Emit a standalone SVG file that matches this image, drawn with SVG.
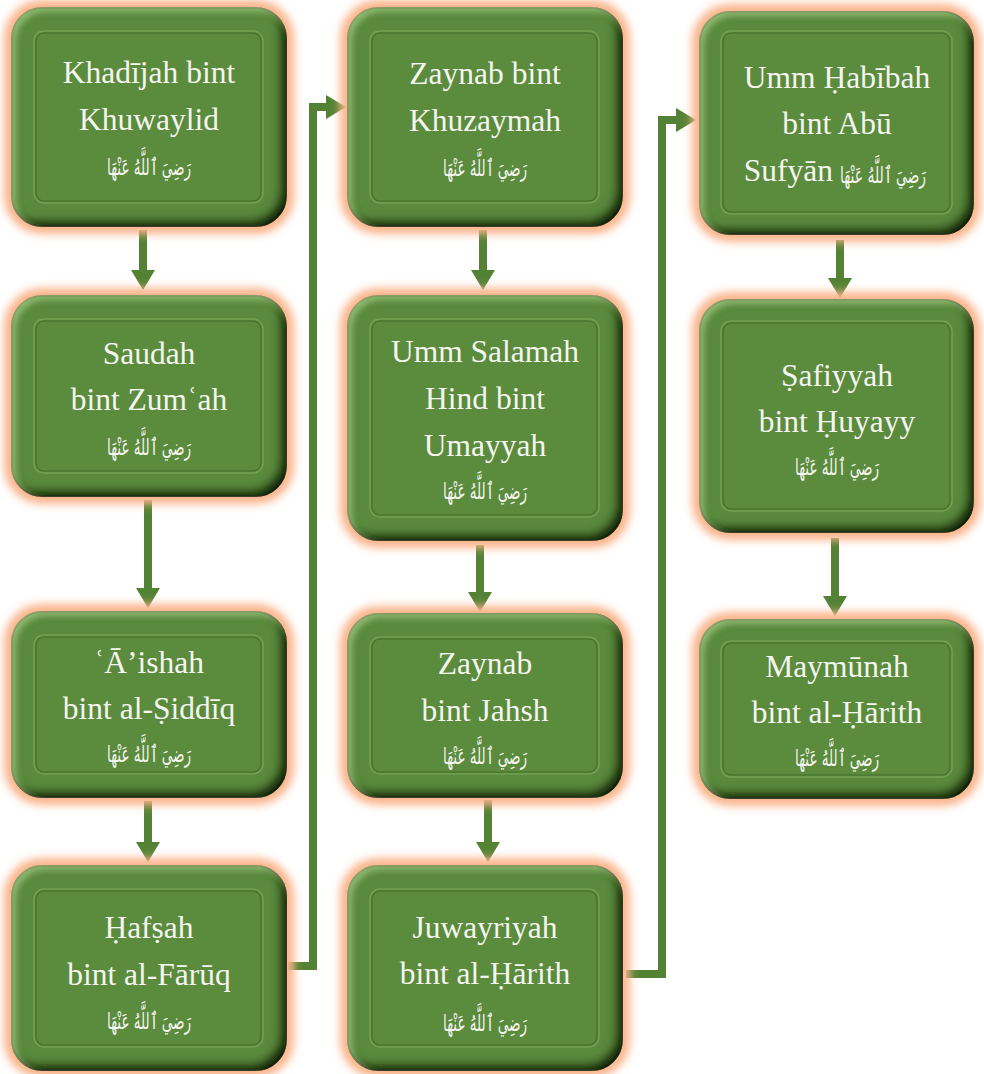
<svg xmlns="http://www.w3.org/2000/svg" width="984" height="1074" viewBox="0 0 984 1074">
<defs>
<style>
.glow{fill:none;stroke:#fab48a;stroke-width:16;filter:url(#blur)}
.body{fill:#5a8a3c;stroke:#3b2412;stroke-width:1.5;filter:url(#bevel)}
.panel{fill:#5b8b3d;stroke:#46702d;stroke-width:1.2}
.phl{fill:none;stroke:#78a658;stroke-width:1.5;opacity:0.8}
.t{font-family:"Liberation Serif",serif;font-size:31.5px;fill:#f5f5ef;text-anchor:middle}
.ar{font-family:"DejaVu Sans",sans-serif;font-size:23px;fill:#f5f5ef;text-anchor:middle}
.conn{fill:none;stroke:#548235;stroke-width:8;marker-end:url(#ah)}
</style>
<filter id="blur" x="-10%" y="-10%" width="120%" height="120%">
<feGaussianBlur stdDeviation="4.5"/>
</filter>
<filter id="bevel" x="-5%" y="-5%" width="110%" height="110%">
<feOffset in="SourceAlpha" dx="-7" dy="-7" result="o1"/>
<feGaussianBlur in="o1" stdDeviation="4" result="b1"/>
<feComposite in="SourceAlpha" in2="b1" operator="out" result="i1"/>
<feFlood flood-color="#121c08" flood-opacity="0.95"/>
<feComposite in2="i1" operator="in" result="sh"/>
<feOffset in="SourceAlpha" dx="4" dy="4" result="o2"/>
<feGaussianBlur in="o2" stdDeviation="3" result="b2"/>
<feComposite in="SourceAlpha" in2="b2" operator="out" result="i2"/>
<feFlood flood-color="#a8d288" flood-opacity="0.6"/>
<feComposite in2="i2" operator="in" result="hl"/>
<feMerge><feMergeNode in="SourceGraphic"/><feMergeNode in="sh"/><feMergeNode in="hl"/></feMerge>
</filter>
<marker id="ah" markerUnits="userSpaceOnUse" viewBox="0 0 20 24" refX="0" refY="12" markerWidth="20" markerHeight="24" orient="auto">
<path d="M0,0 L20,12 L0,24 z" fill="#548235"/>
</marker>
</defs>
<rect width="984" height="1074" fill="#ffffff"/>

<g id="connectors">
<path class="conn" d="M143,230 V270"/>
<path class="conn" d="M148,500 V588"/>
<path class="conn" d="M148,801 V842"/>
<path class="conn" d="M483,230 V270"/>
<path class="conn" d="M480,545 V592"/>
<path class="conn" d="M488,800 V842"/>
<path class="conn" d="M840,240 V278"/>
<path class="conn" d="M835,538 V596"/>
<path class="conn" d="M288,966 H313 V107 H326"/>
<path class="conn" d="M626,974 H662 V120 H676"/>
</g>

<g id="n1">
<rect class="glow" x="12" y="8" width="274" height="218" rx="30"/>
<rect class="body" x="12" y="8" width="274" height="218" rx="30"/>
<rect class="phl" x="34" y="31" width="229" height="172" rx="10"/>
<rect class="panel" x="36" y="33" width="225" height="168" rx="8"/>
<text class="t" x="149" y="83">Khadījah bint</text>
<text class="t" x="149" y="130">Khuwaylid</text>
<text class="ar" x="149" y="175" textLength="84" lengthAdjust="spacingAndGlyphs">رَضِيَ ٱللَّهُ عَنْهَا</text>
</g>

<g id="n2">
<rect class="glow" x="12" y="296" width="274" height="200" rx="30"/>
<rect class="body" x="12" y="296" width="274" height="200" rx="30"/>
<rect class="phl" x="34" y="319" width="229" height="154" rx="10"/>
<rect class="panel" x="36" y="321" width="225" height="150" rx="8"/>
<text class="t" x="149" y="364">Saudah</text>
<text class="t" x="149" y="410">bint Zumʿah</text>
<text class="ar" x="149" y="455" textLength="84" lengthAdjust="spacingAndGlyphs">رَضِيَ ٱللَّهُ عَنْهَا</text>
</g>

<g id="n3">
<rect class="glow" x="12" y="612" width="274" height="185" rx="30"/>
<rect class="body" x="12" y="612" width="274" height="185" rx="30"/>
<rect class="phl" x="34" y="635" width="229" height="139" rx="10"/>
<rect class="panel" x="36" y="637" width="225" height="135" rx="8"/>
<text class="t" x="149" y="673">ʿĀ’ishah</text>
<text class="t" x="149" y="719">bint al-Ṣiddīq</text>
<text class="ar" x="149" y="762" textLength="84" lengthAdjust="spacingAndGlyphs">رَضِيَ ٱللَّهُ عَنْهَا</text>
</g>

<g id="n4">
<rect class="glow" x="12" y="866" width="274" height="204" rx="30"/>
<rect class="body" x="12" y="866" width="274" height="204" rx="30"/>
<rect class="phl" x="34" y="889" width="229" height="158" rx="10"/>
<rect class="panel" x="36" y="891" width="225" height="154" rx="8"/>
<text class="t" x="149" y="938">Ḥafṣah</text>
<text class="t" x="149" y="985">bint al-Fārūq</text>
<text class="ar" x="149" y="1029" textLength="84" lengthAdjust="spacingAndGlyphs">رَضِيَ ٱللَّهُ عَنْهَا</text>
</g>

<g id="n5">
<rect class="glow" x="348" y="8" width="274" height="218" rx="30"/>
<rect class="body" x="348" y="8" width="274" height="218" rx="30"/>
<rect class="phl" x="370" y="31" width="229" height="172" rx="10"/>
<rect class="panel" x="372" y="33" width="225" height="168" rx="8"/>
<text class="t" x="485" y="84">Zaynab bint</text>
<text class="t" x="485" y="131">Khuzaymah</text>
<text class="ar" x="485" y="176" textLength="84" lengthAdjust="spacingAndGlyphs">رَضِيَ ٱللَّهُ عَنْهَا</text>
</g>

<g id="n6">
<rect class="glow" x="348" y="296" width="274" height="244" rx="30"/>
<rect class="body" x="348" y="296" width="274" height="244" rx="30"/>
<rect class="phl" x="370" y="319" width="229" height="198" rx="10"/>
<rect class="panel" x="372" y="321" width="225" height="194" rx="8"/>
<text class="t" x="485" y="362">Umm Salamah</text>
<text class="t" x="485" y="409">Hind bint</text>
<text class="t" x="485" y="456">Umayyah</text>
<text class="ar" x="485" y="499" textLength="84" lengthAdjust="spacingAndGlyphs">رَضِيَ ٱللَّهُ عَنْهَا</text>
</g>

<g id="n7">
<rect class="glow" x="348" y="614" width="274" height="183" rx="30"/>
<rect class="body" x="348" y="614" width="274" height="183" rx="30"/>
<rect class="phl" x="370" y="637" width="229" height="137" rx="10"/>
<rect class="panel" x="372" y="639" width="225" height="133" rx="8"/>
<text class="t" x="485" y="674">Zaynab</text>
<text class="t" x="485" y="721">bint Jahsh</text>
<text class="ar" x="485" y="764" textLength="84" lengthAdjust="spacingAndGlyphs">رَضِيَ ٱللَّهُ عَنْهَا</text>
</g>

<g id="n8">
<rect class="glow" x="348" y="866" width="274" height="204" rx="30"/>
<rect class="body" x="348" y="866" width="274" height="204" rx="30"/>
<rect class="phl" x="370" y="889" width="229" height="158" rx="10"/>
<rect class="panel" x="372" y="891" width="225" height="154" rx="8"/>
<text class="t" x="485" y="938">Juwayriyah</text>
<text class="t" x="485" y="984">bint al-Ḥārith</text>
<text class="ar" x="485" y="1031" textLength="84" lengthAdjust="spacingAndGlyphs">رَضِيَ ٱللَّهُ عَنْهَا</text>
</g>

<g id="n9">
<rect class="glow" x="700" y="12" width="273" height="222" rx="30"/>
<rect class="body" x="700" y="12" width="273" height="222" rx="30"/>
<rect class="phl" x="721" y="31" width="231" height="183" rx="10"/>
<rect class="panel" x="723" y="33" width="227" height="179" rx="8"/>
<text class="t" x="837" y="88">Umm Ḥabībah</text>
<text class="t" x="837" y="134">bint Abū</text>
<text class="t" x="833" y="181" style="text-anchor:end">Sufyān</text>
<text class="ar" x="883" y="183" textLength="86" lengthAdjust="spacingAndGlyphs">رَضِيَ ٱللَّهُ عَنْهَا</text>
</g>

<g id="n10">
<rect class="glow" x="700" y="300" width="273" height="232" rx="30"/>
<rect class="body" x="700" y="300" width="273" height="232" rx="30"/>
<rect class="phl" x="721" y="321" width="231" height="190" rx="10"/>
<rect class="panel" x="723" y="323" width="227" height="186" rx="8"/>
<text class="t" x="837" y="386">Ṣafiyyah</text>
<text class="t" x="837" y="432">bint Ḥuyayy</text>
<text class="ar" x="837" y="475" textLength="84" lengthAdjust="spacingAndGlyphs">رَضِيَ ٱللَّهُ عَنْهَا</text>
</g>

<g id="n11">
<rect class="glow" x="700" y="620" width="273" height="178" rx="30"/>
<rect class="body" x="700" y="620" width="273" height="178" rx="30"/>
<rect class="phl" x="721" y="641" width="231" height="136" rx="10"/>
<rect class="panel" x="723" y="643" width="227" height="132" rx="8"/>
<text class="t" x="837" y="677">Maymūnah</text>
<text class="t" x="837" y="723">bint al-Ḥārith</text>
<text class="ar" x="837" y="766" textLength="84" lengthAdjust="spacingAndGlyphs">رَضِيَ ٱللَّهُ عَنْهَا</text>
</g>
</svg>
